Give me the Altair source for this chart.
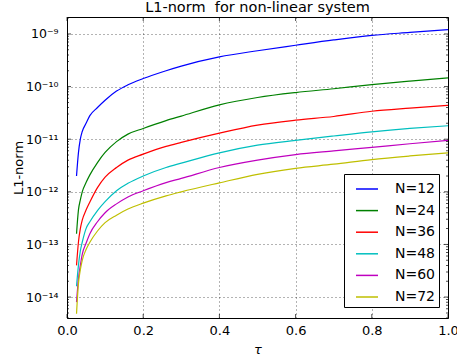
import altair as alt
import pandas as pd

# ---- data ----
tau = [0.025, 0.03, 0.035, 0.04, 0.05, 0.06, 0.08, 0.1, 0.13, 0.16, 0.2,
       0.26, 0.3, 0.4, 0.5, 0.6, 0.7, 0.8, 0.9, 1.0]

n12 = [2.0e-12, 5.5e-12, 1.0e-11, 1.4e-11, 2.0e-11, 2.8e-11, 4.0e-11, 5.5e-11,
       8.2e-11, 1.08e-10, 1.42e-10, 2.0e-10, 2.45e-10, 3.66e-10, 4.8e-10,
       6.1e-10, 7.7e-10, 9.4e-10, 1.07e-9, 1.21e-9]
n24 = [1.6e-13, 4.5e-13, 7.0e-13, 1.0e-12, 1.5e-12, 2.1e-12, 3.6e-12, 5.6e-12,
       9.0e-12, 1.25e-11, 1.6e-11, 2.25e-11, 2.75e-11, 4.5e-11, 6.2e-11,
       7.7e-11, 9.1e-11, 1.09e-10, 1.27e-10, 1.46e-10]
n36 = [4.0e-14, 1.1e-13, 2.0e-13, 2.9e-13, 4.5e-13, 6.4e-13, 1.2e-12, 1.9e-12,
       2.9e-12, 4.0e-12, 5.2e-12, 7.3e-12, 8.7e-12, 1.3e-11, 1.85e-11,
       2.3e-11, 2.7e-11, 3.4e-11, 3.9e-11, 4.4e-11]
n48 = [1.6e-14, 4.0e-14, 7.5e-14, 1.1e-13, 2.0e-13, 2.7e-13, 4.4e-13, 6.5e-13,
       1.05e-12, 1.45e-12, 2.0e-12, 2.9e-12, 3.5e-12, 5.5e-12, 7.7e-12,
       9.5e-12, 1.15e-11, 1.38e-11, 1.6e-11, 1.8e-11]
n60 = [8.0e-15, 2.2e-14, 4.0e-14, 6.5e-14, 1.05e-13, 1.6e-13, 2.7e-13, 4.0e-13,
       5.9e-13, 8.0e-13, 1.05e-12, 1.5e-12, 1.8e-12, 2.9e-12, 4.0e-12,
       5.1e-12, 6.0e-12, 7.0e-12, 8.2e-12, 9.5e-12]
n72 = [4.8e-15, 1.8e-14, 3.3e-14, 5.0e-14, 8.0e-14, 1.1e-13, 1.8e-13, 2.6e-13,
       3.6e-13, 4.7e-13, 6.1e-13, 8.4e-13, 1.0e-12, 1.48e-12, 2.15e-12,
       2.8e-12, 3.35e-12, 4.1e-12, 4.8e-12, 5.5e-12]

series_names = ["N=12", "N=24", "N=36", "N=48", "N=60", "N=72"]
series_values = [n12, n24, n36, n48, n60, n72]
colors = ["#0000ff", "#008000", "#ff0000", "#00bfbf", "#bf00bf", "#bfbf00"]

x_ticks = [0.0, 0.2, 0.4, 0.6, 0.8, 1.0]
y_major = [1e-14, 1e-13, 1e-12, 1e-11, 1e-10, 1e-9]
y_minor = [m * 10.0 ** k for k in range(-15, -8) for m in range(2, 10)]
y_domain = [4.0e-15, 2.1e-9]
y_minor = [v for v in y_minor if y_domain[0] <= v <= y_domain[1]]

rows = []
for name, vals in zip(series_names, series_values):
    for t, v in zip(tau, vals):
        rows.append({"tau": t, "value": v, "series": name})
df = pd.DataFrame(rows)

W, H = 381, 301
FONT = "DejaVu Sans"

xscale = alt.Scale(domain=[0, 1], padding=0, nice=False)
yscale = alt.Scale(type="log", domain=y_domain, padding=0, nice=False)

sup = "'⁰¹²³⁴⁵⁶⁷⁸⁹'"
e = "abs(round(log(datum.value)/LN10))"
label_expr = (
    "'10⁻' + (" + e + " >= 10 ? substring(" + sup + ", floor(" + e + "/10), floor(" + e + "/10)+1) : '') + "
    "substring(" + sup + ", " + e + " % 10, " + e + " % 10 + 1)"
)

lines = alt.Chart(df).mark_line(strokeWidth=1.2, clip=True, interpolate="monotone").encode(
    x=alt.X("tau:Q", scale=xscale, title="τ",
            axis=alt.Axis(values=x_ticks, format=".1f", title="τ", ticks=False,
                          domain=False, grid=True, gridColor="#000000",
                          gridDash=[1, 3], gridOpacity=0.6, labelFontSize=13,
                          labelPadding=6, labelFlush=False, titleFontSize=13,
                          titleFontStyle="italic",
                          titleFontWeight="normal", titlePadding=6,
                          labelFont=FONT, titleFont=FONT, labelColor="#000")),
    y=alt.Y("value:Q", scale=yscale, title="L1-norm",
            axis=alt.Axis(values=y_major, labelExpr=label_expr, title="L1-norm",
                          ticks=False, domain=False, grid=True, gridColor="#000000",
                          gridDash=[1, 3], gridOpacity=0.6, labelFontSize=12.5,
                          labelPadding=9, labelFlush=False, titleFontSize=13,
                          titleFontWeight="normal", titleX=-42, titleY=H / 2,
                          labelFont=FONT, titleFont=FONT,
                          labelColor="#000")),
    color=alt.Color("series:N", sort=series_names,
                    scale=alt.Scale(domain=series_names, range=colors),
                    legend=alt.Legend(title=None, orient="none", legendX=277, legendY=157,
                                      symbolType="stroke", symbolSize=484,
                                      symbolStrokeWidth=1.5, symbolOffset=8,
                                      labelOffset=16, labelFontSize=14, labelFont=FONT,
                                      labelExpr="datum.label + '\u00a0\u00a0\u00a0'",
                                      padding=3, rowPadding=2.6, strokeColor="#000000",
                                      fillColor="#ffffff", cornerRadius=0)),
)

ymaj_df = pd.DataFrame({"value": y_major})
ymin_df = pd.DataFrame({"value": y_minor})
xt_df = pd.DataFrame({"tau": x_ticks})

def ytick(data, xpos, size):
    return alt.Chart(data).mark_tick(size=size, thickness=1, color="#000").encode(
        y=alt.Y("value:Q", scale=yscale, title="L1-norm"), x=alt.value(xpos))

def xtick(ypos, size):
    return alt.Chart(xt_df).mark_tick(size=size, thickness=1, color="#000").encode(
        x=alt.X("tau:Q", scale=xscale, title="τ"), y=alt.value(ypos))

chart = alt.layer(
    lines,
    ytick(ymaj_df, 2, 4), ytick(ymaj_df, W - 2, 4),
    ytick(ymin_df, 1, 2), ytick(ymin_df, W - 1, 2),
    xtick(H - 2, 4), xtick(2, 4),
).properties(
    width=W, height=H,
    title=alt.TitleParams("L1-norm\u00a0 for non-linear system", fontSize=14.5,
                          font=FONT, fontWeight="normal", anchor="middle",
                          offset=2, color="#000"),
    autosize=alt.AutoSizeParams(type="none"),
    padding={"left": 67, "top": 17, "right": 9, "bottom": 42},
).configure_view(stroke="#000000", strokeWidth=1)

chart.save("out.html", embed_options={"renderer": "svg", "actions": False})
